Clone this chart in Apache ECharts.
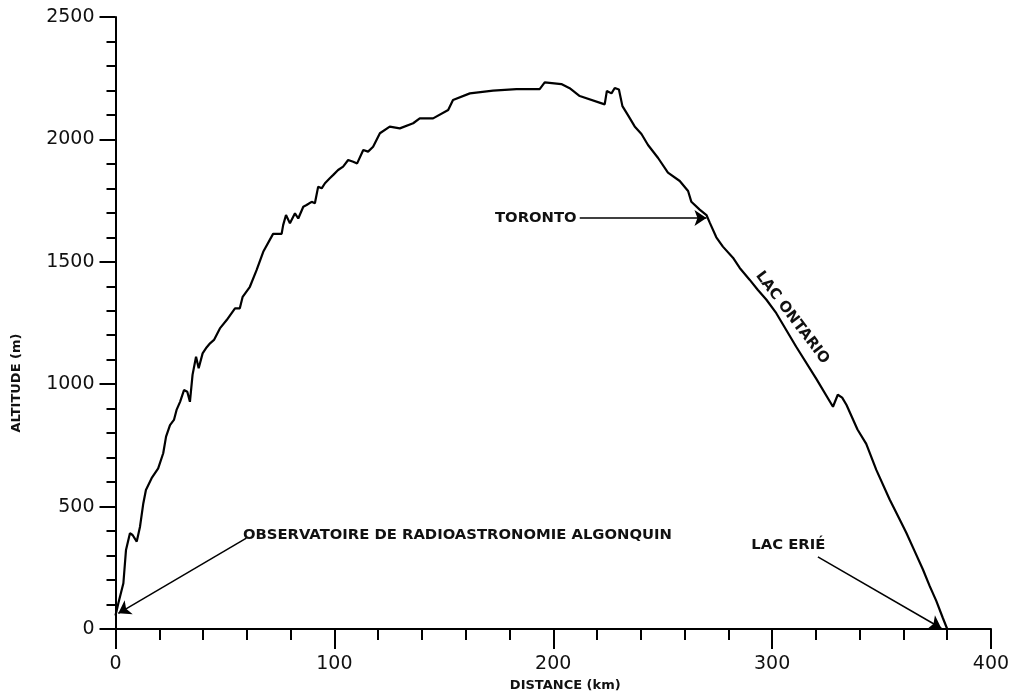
<!DOCTYPE html>
<html>
<head>
<meta charset="utf-8">
<script src="https://cdn.jsdelivr.net/npm/echarts@6/dist/echarts.min.js"></script>
<style>html,body{margin:0;padding:0;background:#fff}#c{width:1016px;height:700px}</style>
</head>
<body>
<div id="c"></div>
<script>
// Profile: distance (km) and altitude (m)
var distanceKm = [0,1.3,3.6,4.8,6.6,7.8,9.7,11.2,12.7,13.9,16.5,19.5,21.8,23.1,24.9,26.7,27.9,29.5,31.3,32.8,34.0,35.2,36.8,38.0,39.8,41.6,43.2,45.0,47.7,50.8,54.6,56.8,58.1,61.4,64.5,67.5,72.0,75.9,76.6,77.9,79.7,82.0,83.5,85.8,87.3,89.6,91.1,92.6,94.2,95.7,97.9,99.5,101.7,104.0,106.3,108.6,110.4,113.2,115.4,117.7,120.8,125.3,129.9,136.0,139.0,145.1,152.0,154.2,161.9,172.5,183.2,193.8,196.1,203.7,207.5,212.1,223.5,224.5,226.6,228.1,230.0,231.6,234.2,237.2,240.3,243.3,247.9,252.4,257.8,261.6,263.1,266.9,270.0,271.5,274.5,277.5,282.1,285.2,289.7,293.5,297.4,301.9,311.0,320.2,327.8,330.0,332.0,334.0,339.0,343.0,347.6,353.7,358.4,361.3,365.0,368.9,372.0,375.0,378.0,380.0];
var altitudeM = [55,105,187,323,391,384,357,418,513,568,616,656,718,786,833,854,895,928,976,969,928,1038,1112,1065,1126,1150,1167,1181,1228,1262,1310,1310,1357,1398,1467,1541,1614,1614,1650,1691,1657,1698,1677,1725,1732,1745,1739,1807,1800,1821,1841,1855,1875,1889,1916,1909,1902,1957,1950,1970,2025,2052,2045,2066,2086,2086,2120,2161,2188,2199,2205,2205,2233,2226,2209,2177,2143,2198,2188,2210,2204,2136,2098,2053,2022,1977,1924,1864,1830,1789,1745,1713,1691,1660,1600,1562,1517,1475,1427,1385,1345,1290,1153,1022,908,957,945,915,815,756,650,529,445,393,320,243,175,115,45,0];

// Axes
var xTicks = [0, 100, 200, 300, 400];
var yTicks = [0, 500, 1000, 1500, 2000, 2500];
var xAxisTitle = 'DISTANCE (km)';
var yAxisTitle = 'ALTITUDE (m)';

// Annotation texts and their anchor points (km, m)
var noteTexts = ['OBSERVATOIRE DE RADIOASTRONOMIE ALGONQUIN', 'TORONTO', 'LAC ONTARIO', 'LAC ERIÉ'];
var noteKm = [58.2, 210.7, 309.2, 290.5];
var noteAlt = [383, 1679, 1272, 343];
// Arrows: from -> to (km, m)
var arrowFromKm = [59.8, 212.1, 320.9];
var arrowFromAlt = [371, 1679, 295];
var arrowToKm = [1.3, 270.0, 377.3];
var arrowToAlt = [64, 1679, 3];

var chart = echarts.init(document.getElementById('c'), null, {renderer: 'canvas'});
var lineData = distanceKm.map(function (d, i) { return [d, altitudeM[i]]; });

var FONT = 'DejaVu Sans';
var noteAlign = ['left', 'right', 'center', 'left'];
var noteRotate = [0, 0, -52.8, 0];
var markPts = noteTexts.map(function (t, i) {
  return {
    coord: [noteKm[i], noteAlt[i]],
    symbol: 'circle', symbolSize: 1,
    itemStyle: {color: 'rgba(0,0,0,0)'},
    label: {
      show: true, formatter: t, position: 'inside', offset: [0, 0],
      align: noteAlign[i], verticalAlign: 'middle', rotate: noteRotate[i],
      color: '#111', fontFamily: FONT, fontSize: 14.8, fontWeight: 'bold'
    }
  };
});
var markLns = arrowFromKm.map(function (d, i) {
  return [{coord: [d, arrowFromAlt[i]]}, {coord: [arrowToKm[i], arrowToAlt[i]]}];
});

function plain(v) { return String(v); }

chart.setOption({
  animation: false,
  backgroundColor: '#fff',
  grid: {left: 115.5, right: 25, top: 17, bottom: 71, containLabel: false},
  xAxis: {
    type: 'value', min: xTicks[0], max: xTicks[xTicks.length - 1], interval: 100,
    name: xAxisTitle, nameLocation: 'middle', nameGap: 50,
    nameTextStyle: {fontFamily: FONT, fontSize: 13, fontWeight: 'bold', color: '#111', padding: [0, 0, 0, 24]},
    axisLine: {show: true, onZero: false, lineStyle: {color: '#000', width: 2}},
    axisTick: {show: true, length: 20, lineStyle: {color: '#000', width: 2}},
    minorTick: {show: true, splitNumber: 5, length: 11, lineStyle: {color: '#000', width: 2}},
    axisLabel: {margin: 26, fontFamily: FONT, fontSize: 19, color: '#111', formatter: plain},
    splitLine: {show: false}
  },
  yAxis: {
    type: 'value', min: yTicks[0], max: yTicks[yTicks.length - 1], interval: 500,
    name: yAxisTitle, nameLocation: 'middle', nameGap: 92, nameRotate: 90,
    nameTextStyle: {fontFamily: FONT, fontSize: 13, fontWeight: 'bold', color: '#111', padding: [0, 120, 0, 0]},
    axisLine: {show: true, onZero: false, lineStyle: {color: '#000', width: 2}},
    axisTick: {show: true, length: 16, lineStyle: {color: '#000', width: 2}},
    minorTick: {show: true, splitNumber: 5, length: 9, lineStyle: {color: '#000', width: 2}},
    axisLabel: {margin: 21, fontFamily: FONT, fontSize: 19, color: '#111', formatter: plain},
    splitLine: {show: false}
  },
  series: [{
    type: 'line', data: lineData, showSymbol: false, symbol: 'none', silent: true,
    lineStyle: {color: '#000', width: 2.2}, smooth: false,
    markPoint: {silent: true, data: markPts, animation: false},
    markLine: {
      silent: true, animation: false, symbol: ['none', 'arrow'], symbolSize: 12,
      label: {show: false},
      lineStyle: {color: '#000', width: 1.5, type: 'solid'},
      emphasis: {disabled: true},
      data: markLns
    }
  }]
});
</script>
</body>
</html>
